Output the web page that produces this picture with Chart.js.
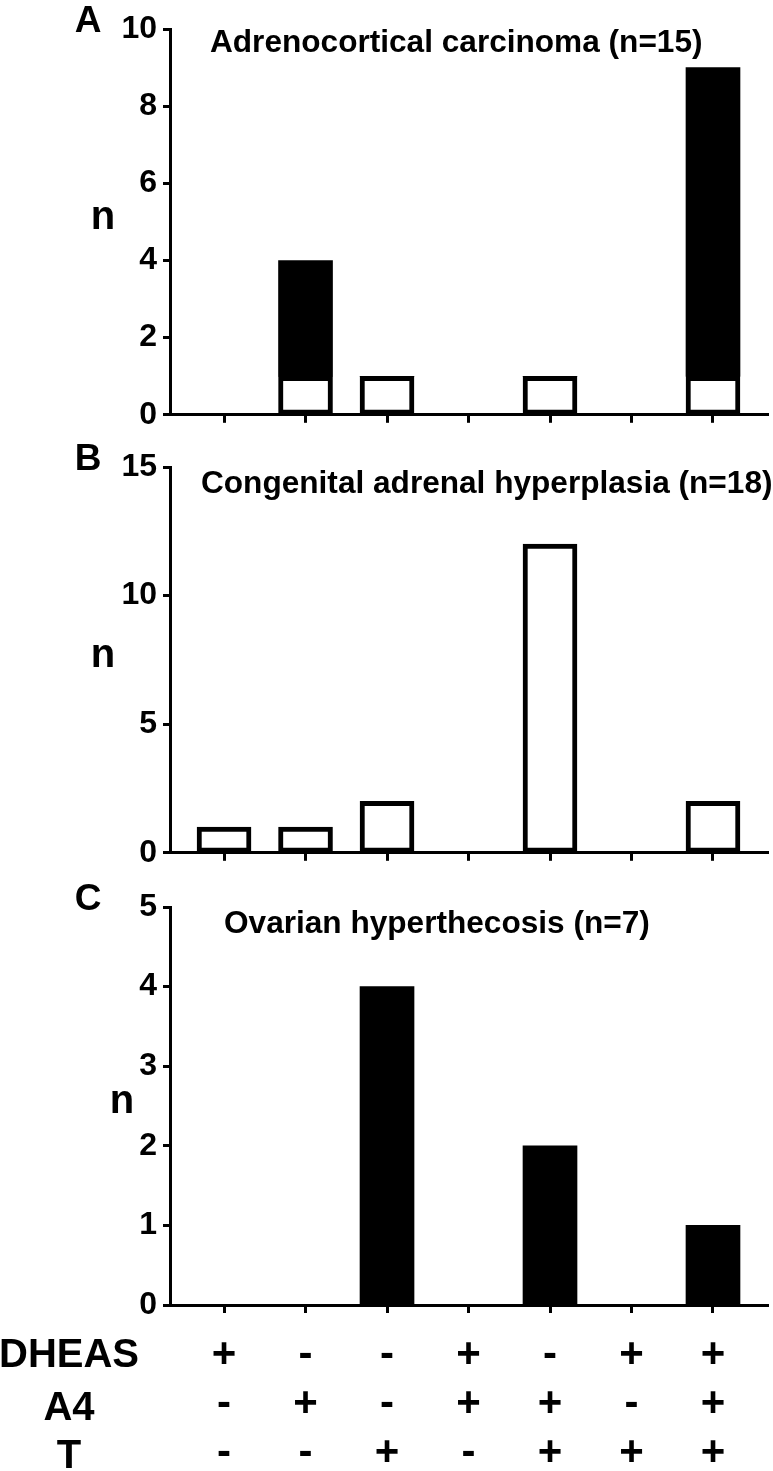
<!DOCTYPE html>
<html><head><meta charset="utf-8">
<script src="https://cdn.jsdelivr.net/npm/chart.js@4.4.1/dist/chart.umd.min.js"></script>
<style>
html,body{margin:0;padding:0;background:#fff;}
#wrap{position:relative;width:773px;height:1471px;overflow:hidden;background:#fff;}
.panel{position:absolute;left:0;width:773px;}
</style></head><body>
<div id="wrap">
<div class="panel" style="top:0;height:440px"><canvas id="cA"></canvas></div>
<div class="panel" style="top:440px;height:438px"><canvas id="cB"></canvas></div>
<div class="panel" style="top:878px;height:593px"><canvas id="cC"></canvas></div>
</div>
<script>
// ---- data ----
const categories = ['DHEAS+ A4- T-','DHEAS- A4+ T-','DHEAS- A4- T+','DHEAS+ A4+ T-','DHEAS- A4+ T+','DHEAS+ A4- T+','DHEAS+ A4+ T+'];
const dheasRow = ['+','-','-','+','-','+','+'];
const a4Row    = ['-','+','-','+','+','-','+'];
const tRow     = ['-','-','+','-','+','+','+'];
const rowNames = ['DHEAS','A4','T'];

const accOpen   = [0,1,1,0,1,0,1];   // panel A, open part
const accFilled = [0,3,0,0,0,0,8];   // panel A, filled part (stacked)
const cahOpen   = [1,1,2,0,12,0,2];  // panel B
const ohFilled  = [0,0,4,0,2,0,1];   // panel C

const titles  = ['Adrenocortical carcinoma (n=15)','Congenital adrenal hyperplasia (n=18)','Ovarian hyperthecosis (n=7)'];
const letters = ['A','B','C'];
const yMaxes  = [10,15,5];
const ySteps  = [2,5,1];
// -----------------

const FAM = '"Liberation Sans", Arial, Helvetica, sans-serif';
Chart.defaults.font.family = FAM;
Chart.defaults.font.weight = 'bold';
Chart.defaults.color = '#000';

const pts = arr => arr.map((v,i)=>({x:i,y:v}));

const decor = {
  id:'decor',
  afterDraw(chart, args, o){
    const {ctx, chartArea:a} = chart;
    ctx.save();
    ctx.fillStyle = '#000';
    ctx.textBaseline = 'alphabetic';
    ctx.textAlign = 'center';
    ctx.font = 'bold 37px ' + FAM;
    ctx.fillText(o.letter, 88, a.top + 3);
    ctx.font = 'bold 40px ' + FAM;
    ctx.fillText('n', o.nX, (a.top + a.bottom)/2 + 7);
    ctx.textAlign = 'left';
    ctx.font = 'bold 31.6px ' + FAM;
    ctx.fillText(o.title, o.titleX, a.top + o.titleDy);
    if (o.rows){
      ctx.textAlign = 'center';
      ctx.font = 'bold 40px ' + FAM;
      const dys = [62,115,163];
      o.rows.forEach((r,i)=>ctx.fillText(r, 69, a.bottom + dys[i]));
    }
    ctx.restore();
  }
};

function makeOptions(p){
  return {
    responsive:true, maintainAspectRatio:false, animation:false,
    layout:{padding:{top:p.padTop, right:5, bottom:0, left:0}},
    plugins:{legend:{display:false}, tooltip:{enabled:false}, title:{display:false}, decor:p.decor},
    scales:{
      x:{
        type:'linear', min:-0.663, max:6.675, stacked:true, offset:false,
        afterBuildTicks: s => { s.ticks = categories.map((_,i)=>({value:i})); },
        afterFit: s => { s.height = p.xHeight; },
        border:{display:true, color:'#000', width:3},
        grid:{offset:false, drawOnChartArea:false, drawTicks:true, tickLength:8, tickWidth:3, color:'#000'},
        ticks: p.table ? {
          display:true, autoSkip:false, maxRotation:0, minRotation:0, padding:18,
          font:{size:42, weight:'bold', lineHeight:1.17}, color:'#000',
          callback:(v,i)=>[dheasRow[i], a4Row[i], tRow[i]]
        } : {display:false}
      },
      y:{
        min:0, max:p.max, stacked:true,
        afterFit: s => { s.width = 170; },
        border:{display:true, color:'#000', width:3},
        grid:{drawOnChartArea:false, drawTicks:true, tickLength:7, tickWidth:3, color:'#000'},
        ticks:{stepSize:p.step, padding:6, font:{size:32, weight:'bold'}, color:'#000'}
      }
    }
  };
}

const openStyle = {backgroundColor:'#fff', borderColor:'#000', borderWidth:5, borderSkipped:false, barThickness:54};
const fillStyle = {backgroundColor:'#000', borderColor:'#000', borderWidth:0, barThickness:54};

new Chart(document.getElementById('cA'), {
  type:'bar',
  data:{datasets:[
    Object.assign({label:'open', data:pts(accOpen)}, openStyle),
    Object.assign({label:'filled', data:pts(accFilled)}, fillStyle)
  ]},
  options: makeOptions({padTop:29, xHeight:13, max:yMaxes[0], step:ySteps[0], table:false,
    decor:{letter:letters[0], title:titles[0], titleX:210, titleDy:23, nX:103}}),
  plugins:[decor]
});

new Chart(document.getElementById('cB'), {
  type:'bar',
  data:{datasets:[ Object.assign({label:'open', data:pts(cahOpen)}, openStyle) ]},
  options: makeOptions({padTop:27, xHeight:13, max:yMaxes[1], step:ySteps[1], table:false,
    decor:{letter:letters[1], title:titles[1], titleX:201, titleDy:26, nX:103}}),
  plugins:[decor]
});

new Chart(document.getElementById('cC'), {
  type:'bar',
  data:{datasets:[ Object.assign({label:'filled', data:pts(ohFilled)}, fillStyle) ]},
  options: makeOptions({padTop:29, xHeight:166, max:yMaxes[2], step:ySteps[2], table:true,
    decor:{letter:letters[2], title:titles[2], titleX:224, titleDy:26, nX:122, rows:rowNames}}),
  plugins:[decor]
});
</script>
</body></html>
